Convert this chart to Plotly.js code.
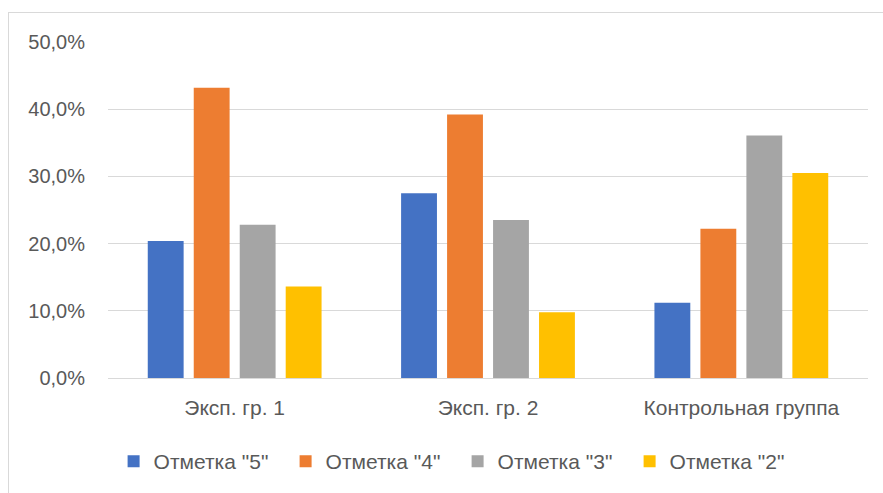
<!DOCTYPE html>
<html>
<head>
<meta charset="utf-8">
<script src="https://cdn.plot.ly/plotly-3.0.1.min.js"></script>
<style>
html,body{margin:0;padding:0;background:#fff;overflow:hidden;}
#frame{position:absolute;left:8px;top:12px;width:900px;height:500px;border:1px solid #d9d9d9;box-sizing:border-box;}
#chart{position:absolute;left:0;top:0;width:883px;height:493px;}
</style>
</head>
<body>
<div id="frame"></div>
<div id="chart"></div>
<script>
const categories = ["Эксп. гр. 1", "Эксп. гр. 2", "Контрольная группа"];
const seriesNames = ['Отметка "5"', 'Отметка "4"', 'Отметка "3"', 'Отметка "2"'];
const mark5 = [20.4, 27.5, 11.2];
const mark4 = [43.2, 39.2, 22.2];
const mark3 = [22.8, 23.5, 36.1];
const mark2 = [13.6, 9.8, 30.5];
const colors = ["#4472c4", "#ed7d31", "#a5a5a5", "#ffc000"];
const yTicks = [0, 10, 20, 30, 40, 50];
const yTickText = yTicks.map(v => v.toFixed(1).replace(".", ",") + "%");

const allValues = [mark5, mark4, mark3, mark2];
const traces = allValues.map((vals, i) => ({
  type: "bar",
  name: seriesNames[i],
  x: categories,
  y: vals,
  marker: {color: colors[i]},
  hoverinfo: "skip"
}));

const fam = "Liberation Sans, Arial, sans-serif";
const yFont = {family: fam, size: 20, color: "#595959"};
const xFont = {family: fam, size: 21, color: "#595959"};
const legFont = {family: fam, size: 21, color: "#595959"};

const layout = {
  width: 883,
  height: 493,
  paper_bgcolor: "rgba(0,0,0,0)",
  plot_bgcolor: "rgba(0,0,0,0)",
  margin: {l: 108, r: 15, t: 42, b: 115, autoexpand: false},
  barmode: "group",
  bargap: 0.274,
  bargroupgap: 0.22,
  font: yFont,
  showlegend: true,
  legend: {
    orientation: "h",
    x: 0.46, xanchor: "center",
    yref: "container",
    y: 0.1055, yanchor: "top",
    font: legFont,
    traceorder: "normal",
    itemwidth: 30,
    entrywidth: 127,
    entrywidthmode: "pixels"
  },
  xaxis: {
    showgrid: false,
    showline: false,
    zeroline: false,
    ticks: "",
    ticklabelstandoff: 15,
    tickfont: xFont,
    automargin: false,
    fixedrange: true
  },
  yaxis: {
    range: [0, 50],
    tickvals: yTicks,
    ticktext: yTickText,
    showgrid: true,
    gridcolor: "#d9d9d9",
    gridwidth: 1,
    zeroline: true,
    zerolinecolor: "#d9d9d9",
    zerolinewidth: 1,
    showline: false,
    ticks: "",
    ticklabelstandoff: 22,
    tickfont: yFont,
    automargin: false,
    fixedrange: true
  }
};

Plotly.newPlot("chart", traces, layout, {displayModeBar: false, staticPlot: true});
</script>
</body>
</html>
